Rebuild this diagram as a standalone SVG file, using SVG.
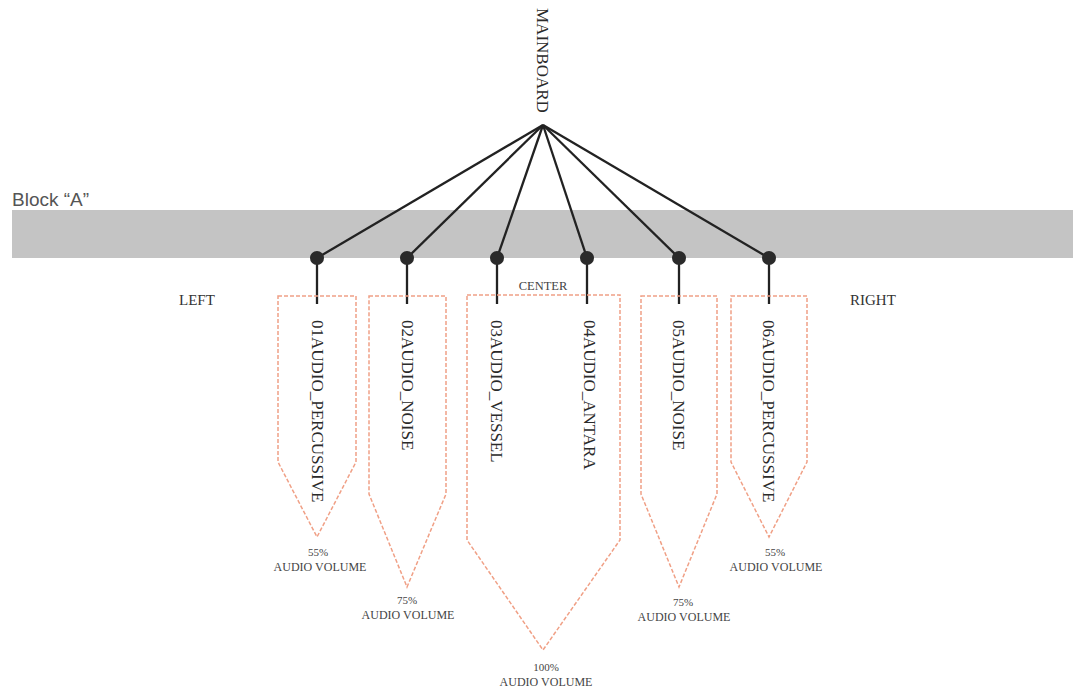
<svg xmlns="http://www.w3.org/2000/svg" width="1073" height="690" viewBox="0 0 1073 690">
<style>
.band{fill:#c4c4c4}
.blk{font-family:"Liberation Sans",Arial,sans-serif;font-size:19px;fill:#555}
.side{font-family:"Liberation Serif","Times New Roman",serif;font-size:15px;fill:#333}
.vt{font-family:"Liberation Serif","Times New Roman",serif;font-size:17px;fill:#2a2a2a}
.ctr{font-family:"Liberation Serif","Times New Roman",serif;font-size:12.5px;fill:#444;text-anchor:middle}
.vol{font-family:"Liberation Serif","Times New Roman",serif;font-size:12px;fill:#444;text-anchor:middle}
.pct{font-family:"Liberation Serif","Times New Roman",serif;font-size:11px;fill:#444;text-anchor:middle}
.shape{fill:none;stroke:#f0a086;stroke-width:1.5;stroke-dasharray:4 2}
.wire{stroke:#222;stroke-width:2.3;fill:none}
.dot{fill:#2a2a2a}
</style>
<rect class="band" x="12" y="210" width="1061" height="48"/>
<text class="blk" x="12" y="206">Block “A”</text>
<text class="side" x="179" y="305">LEFT</text>
<text class="side" x="850" y="305">RIGHT</text>
<text class="ctr" x="543" y="290">CENTER</text>
<g id="mainboard">
<text class="vt" transform="translate(537,8) rotate(90)">MAINBOARD</text>
</g>
<g id="connectors">
<line class="wire" x1="543" y1="125" x2="317" y2="258"/>
<line class="wire" x1="543" y1="125" x2="407" y2="258"/>
<line class="wire" x1="543" y1="125" x2="497" y2="258"/>
<line class="wire" x1="543" y1="125" x2="587" y2="258"/>
<line class="wire" x1="543" y1="125" x2="679" y2="258"/>
<line class="wire" x1="543" y1="125" x2="769" y2="258"/>
<line class="wire" x1="317" y1="258" x2="317" y2="304"/>
<line class="wire" x1="407" y1="258" x2="407" y2="304"/>
<line class="wire" x1="497" y1="258" x2="497" y2="304"/>
<line class="wire" x1="587" y1="258" x2="587" y2="304"/>
<line class="wire" x1="679" y1="258" x2="679" y2="304"/>
<line class="wire" x1="769" y1="258" x2="769" y2="304"/>
<circle class="dot" cx="317" cy="258" r="7"/>
<circle class="dot" cx="407" cy="258" r="7"/>
<circle class="dot" cx="497" cy="258" r="7"/>
<circle class="dot" cx="587" cy="258" r="7"/>
<circle class="dot" cx="679" cy="258" r="7"/>
<circle class="dot" cx="769" cy="258" r="7"/>
</g>
<g id="ch01">
<polygon class="shape" points="278,296 356,296 356,462 317,537 278,462"/>
<text class="vt" transform="translate(312,320) rotate(90)">01AUDIO_PERCUSSIVE</text>
<text class="pct" x="318" y="556">55%</text>
<text class="vol" x="320" y="571">AUDIO VOLUME</text>
</g>
<g id="ch02">
<polygon class="shape" points="369,296 446,296 446,494 407,587 369,494"/>
<text class="vt" transform="translate(402,320) rotate(90)">02AUDIO_NOISE</text>
<text class="pct" x="407" y="604">75%</text>
<text class="vol" x="408" y="619">AUDIO VOLUME</text>
</g>
<g id="center">
<polygon class="shape" points="467,295 620,295 620,540 543,650 467,540"/>
<text class="vt" transform="translate(491,320) rotate(90)">03AUDIO_VESSEL</text>
<text class="vt" transform="translate(584,320) rotate(90)">04AUDIO_ANTARA</text>
<text class="pct" x="546" y="671">100%</text>
<text class="vol" x="546" y="686">AUDIO VOLUME</text>
</g>
<g id="ch05">
<polygon class="shape" points="641,296 717,296 717,494 679,587 641,494"/>
<text class="vt" transform="translate(673,320) rotate(90)">05AUDIO_NOISE</text>
<text class="pct" x="683" y="606">75%</text>
<text class="vol" x="684" y="621">AUDIO VOLUME</text>
</g>
<g id="ch06">
<polygon class="shape" points="731,296 807,296 807,462 769,537 731,462"/>
<text class="vt" transform="translate(763,320) rotate(90)">06AUDIO_PERCUSSIVE</text>
<text class="pct" x="775" y="556">55%</text>
<text class="vol" x="776" y="571">AUDIO VOLUME</text>
</g>
</svg>
